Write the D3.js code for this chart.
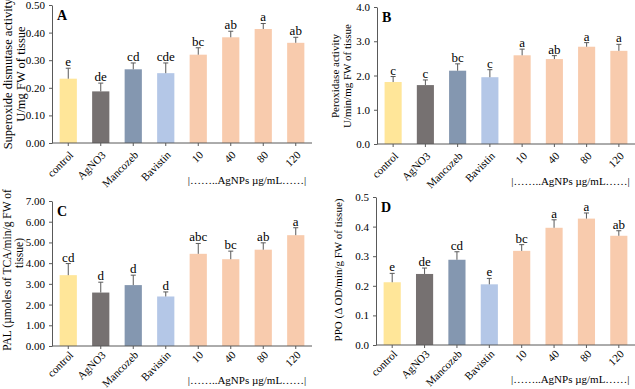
<!DOCTYPE html>
<html>
<head>
<meta charset="utf-8">
<script src="https://cdn.jsdelivr.net/npm/d3@7"></script>
<style>
  body { margin: 0; background: #fff; }
  svg text { font-family: "Liberation Serif", "Times New Roman", Times, serif; fill: #000; }
  .axis path, .axis line { stroke: #595959; }
</style>
</head>
<body>
<svg id="chart" width="635" height="389"></svg>
<script>
// categories shared by all four panels
const categories = ["control", "AgNO3", "Mancozeb", "Bavistin", "10", "40", "80", "120"];

// A - superoxide dismutase
const sodValues = [0.233, 0.187, 0.267, 0.253, 0.320, 0.383, 0.413, 0.363];
const sodErrors = [0.038, 0.030, 0.023, 0.037, 0.025, 0.022, 0.020, 0.020];
const sodLetters = ["e", "de", "cd", "cde", "bc", "ab", "a", "ab"];
const sodTicks = [0, 0.1, 0.2, 0.3, 0.4, 0.5];

// B - peroxidase
const podValues = [1.81, 1.72, 2.14, 1.95, 2.59, 2.48, 2.84, 2.72];
const podErrors = [0.16, 0.15, 0.20, 0.22, 0.18, 0.10, 0.12, 0.19];
const podLetters = ["c", "c", "bc", "c", "a", "ab", "a", "a"];
const podTicks = [0, 1, 2, 3, 4];

// C - PAL
const palValues = [3.42, 2.58, 2.94, 2.39, 4.45, 4.19, 4.65, 5.35];
const palErrors = [0.56, 0.50, 0.48, 0.22, 0.50, 0.39, 0.33, 0.36];
const palLetters = ["cd", "d", "d", "d", "abc", "bc", "ab", "a"];
const palTicks = [0, 1, 2, 3, 4, 5, 6, 7];

// D - PPO
const ppoValues = [0.212, 0.240, 0.288, 0.205, 0.318, 0.396, 0.427, 0.369];
const ppoErrors = [0.030, 0.020, 0.027, 0.020, 0.021, 0.027, 0.019, 0.017];
const ppoLetters = ["e", "de", "cd", "e", "bc", "a", "a", "ab"];
const ppoTicks = [0, 0.1, 0.2, 0.3, 0.4, 0.5];

const barColors = ["#FFE699", "#767171", "#8497B0", "#B4C7E7", "#F8CBAD", "#F8CBAD", "#F8CBAD", "#F8CBAD"];
const groupLabel = "|……..AgNPs µg/mL……|";

const svg = d3.select("#chart");

function drawPanel(p) {
  const g = svg.append("g");

  const x = d3.scaleBand()
    .domain(categories)
    .range([p.x0, p.x1])
    .paddingInner(0.47)
    .paddingOuter(0.235);

  const y = d3.scaleLinear()
    .domain([0, p.ticks[p.ticks.length - 1]])
    .range([p.yBase, p.yTop]);

  const rows = categories.map((c, i) => ({
    name: c, value: p.values[i], err: p.errors[i], letter: p.letters[i], color: barColors[i]
  }));

  // bars
  g.selectAll("rect.bar").data(rows)
    .enter().append("rect")
      .attr("class", "bar")
      .attr("x", d => x(d.name))
      .attr("y", d => y(d.value))
      .attr("width", x.bandwidth())
      .attr("height", d => y(0) - y(d.value))
      .attr("fill", d => d.color);

  // error bars, upward only
  const cx = d => x(d.name) + x.bandwidth() / 2;
  g.selectAll("line.err").data(rows)
    .enter().append("line")
      .attr("class", "err")
      .attr("x1", cx).attr("x2", cx)
      .attr("y1", d => y(d.value)).attr("y2", d => y(d.value + d.err))
      .attr("stroke", "#595959").attr("stroke-width", 1);
  g.selectAll("line.cap").data(rows)
    .enter().append("line")
      .attr("class", "cap")
      .attr("x1", d => cx(d) - 2.5).attr("x2", d => cx(d) + 2.5)
      .attr("y1", d => y(d.value + d.err)).attr("y2", d => y(d.value + d.err))
      .attr("stroke", "#595959").attr("stroke-width", 1);

  // significance letters
  g.selectAll("text.letter").data(rows)
    .enter().append("text")
      .attr("class", "letter")
      .attr("x", cx)
      .attr("y", d => y(d.value + d.err) - 2)
      .attr("text-anchor", "middle")
      .style("font-size", "13px")
      .text(d => d.letter);

  // axes
  const yAxis = d3.axisLeft(y)
    .tickValues(p.ticks)
    .tickFormat(d3.format(p.fmt))
    .tickSize(3)
    .tickPadding(4)
    .tickSizeOuter(0);
  const yg = g.append("g")
    .attr("class", "axis")
    .attr("transform", `translate(${p.x0},0)`)
    .call(yAxis)
    .attr("font-family", null);
  yg.selectAll("text").style("font-size", "11px");

  const xAxis = d3.axisBottom(x).tickSize(3).tickSizeOuter(0).tickFormat("");
  const xg = g.append("g")
    .attr("class", "axis")
    .attr("transform", `translate(0,${p.yBase})`)
    .call(xAxis);
  xg.selectAll(".domain").attr("d", `M${p.x0},0H${p.x1}`);

  g.selectAll("text.xlab").data(rows)
    .enter().append("text")
      .attr("class", "xlab")
      .attr("transform", d => `translate(${cx(d) + 3},${p.yBase + p.labelDy}) rotate(-45)`)
      .attr("text-anchor", "end")
      .attr("dy", "0.35em")
      .style("font-size", "11px")
      .text(d => d.name);

  // group bracket under AgNPs bars
  const gx = (x("10") + x("120") + x.bandwidth()) / 2;
  g.append("text")
    .attr("x", gx)
    .attr("y", p.yBase + p.groupDy)
    .attr("text-anchor", "middle")
    .style("font-size", "11px")
    .text(groupLabel);

  // panel letter
  g.append("text")
    .attr("x", p.x0 + 5)
    .attr("y", p.yTop + 15)
    .style("font-size", "14px")
    .style("font-weight", "bold")
    .text(p.panel);

  // y title
  p.title.forEach(t => {
    g.append("text")
      .attr("transform", `translate(${t.x},${t.y}) rotate(-90)`)
      .attr("text-anchor", "middle")
      .style("font-size", p.titleSize + "px")
      .text(t.text);
  });
}

drawPanel({
  panel: "A", x0: 52, x1: 312, yTop: 5, yBase: 143, groupDy: 41, labelDy: 10,
  values: sodValues, errors: sodErrors, letters: sodLetters, ticks: sodTicks, fmt: ".2f",
  titleSize: 12.5,
  title: [
    { text: "Superoxide dismutase activity", x: 12, y: 74 },
    { text: "U/mg FW of tissue", x: 25, y: 74 }
  ]
});

drawPanel({
  panel: "B", x0: 377, x1: 635, yTop: 7, yBase: 144, groupDy: 41, labelDy: 10,
  values: podValues, errors: podErrors, letters: podLetters, ticks: podTicks, fmt: ".1f",
  titleSize: 11,
  title: [
    { text: "Peroxidase activity", x: 339, y: 76 },
    { text: "U/min/mg  FW of tissue", x: 351, y: 76 }
  ]
});

drawPanel({
  panel: "C", x0: 52, x1: 312, yTop: 201, yBase: 346, groupDy: 38, labelDy: 7,
  values: palValues, errors: palErrors, letters: palLetters, ticks: palTicks, fmt: ".2f",
  titleSize: 11.5,
  title: [
    { text: "PAL (µmoles of TCA/min/g FW of", x: 11, y: 270 },
    { text: "tissue)", x: 23, y: 253 }
  ]
});

drawPanel({
  panel: "D", x0: 376, x1: 635, yTop: 197, yBase: 345, groupDy: 38, labelDy: 7,
  values: ppoValues, errors: ppoErrors, letters: ppoLetters, ticks: ppoTicks, fmt: ".1f",
  titleSize: 11,
  title: [
    { text: "PPO (Δ OD/min/g FW of tissue)", x: 342, y: 270 }
  ]
});
</script>
</body>
</html>
